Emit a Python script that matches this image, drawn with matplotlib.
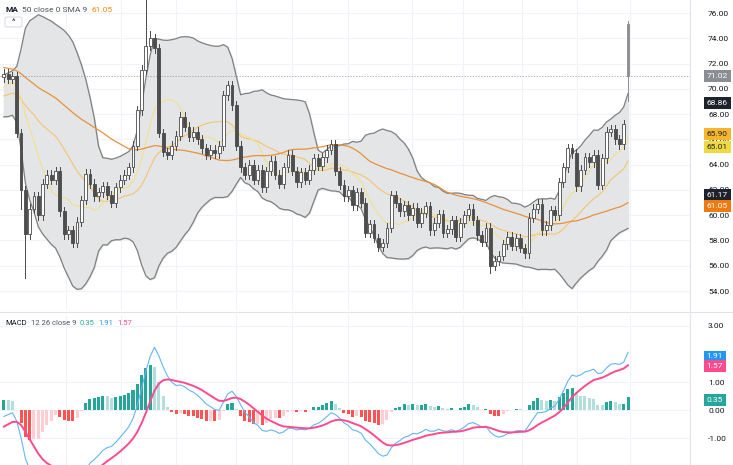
import numpy as np
import matplotlib
matplotlib.use("Agg")
import matplotlib.pyplot as plt
from matplotlib.patches import Rectangle, FancyBboxPatch

plt.rcParams['font.family'] = ['Roboto', 'DejaVu Sans']

# warm-up closes (before visible area)
warmup = [73.2, 73.8, 74.1, 73.5, 72.9, 73.4, 74.0, 74.4, 73.8, 73.1, 72.7, 73.3, 73.9, 74.2, 73.6,
          73.0, 72.6, 73.1, 73.7, 74.0, 73.4, 72.8, 72.5, 73.0, 73.5, 73.1, 72.6, 72.2, 72.7, 73.0,
          69.5, 68.8, 68.4, 68.9, 69.3, 68.7, 68.2, 68.6, 69.2, 69.6, 69.1, 68.7, 69.0, 69.5, 70.0,
          69.6, 70.2, 70.6, 70.3, 70.9]
closes = [71.2, 70.8, 71.0, 66.5, 62.0, 58.5, 60.5, 61.5, 60.0, 62.5, 63.2, 62.8, 63.5,
          60.3, 58.5, 58.8, 57.8, 59.5, 61.2, 63.3, 62.5, 61.5, 61.8, 62.3, 61.6, 61.0, 62.2, 62.8,
          63.2, 63.8, 65.5, 68.3, 71.5, 73.4, 74.0, 73.2, 66.5, 65.0, 64.8, 65.5, 66.3,
          67.8, 67.0, 66.2, 66.6, 66.0, 65.3, 64.8, 65.2, 64.9, 65.5, 69.5, 70.3, 68.7,
          65.5, 63.8, 63.2, 64.0, 62.8, 63.6, 62.2, 63.5, 64.3, 63.2, 62.5, 63.8, 64.8, 63.5, 62.6, 63.4,
          62.8, 63.6, 64.5, 63.9, 64.6, 65.2, 65.6, 63.5, 62.4, 61.5, 62.0, 60.8, 61.8, 61.0, 58.6, 59.3,
          58.2, 57.5, 57.8, 59.0, 61.6, 61.0, 60.3, 60.8, 60.0, 60.6, 59.4, 60.2, 60.7, 58.8, 59.4, 60.1,
          58.6, 58.9, 59.6, 58.3, 59.4, 60.0, 60.5, 59.6, 58.4, 57.9, 59.0, 56.0, 56.4, 56.8, 57.7, 58.3,
          57.6, 58.2, 57.4, 57.0, 59.8, 60.5, 60.9, 58.8, 59.2, 60.4, 60.0, 62.6, 63.8, 65.3, 64.9, 62.3,
          63.6, 64.6, 64.2, 64.8, 62.4, 64.5, 66.6, 66.8, 66.0, 65.6, 67.2, 71.02]
last_open = 75.1
special_high = {33: 77.2, 34: 74.6, 145: 75.4}
special_low = {5: 55.0, 4: 60.5, 145: 69.0, 113: 55.4}

# value, text, background, text colour, displayed position (labels are stacked apart)
right_labels = [(71.02, "71.02", "#8a8d94", "white", 71.02), (68.86, "68.86", "#1e222d", "white", 68.86),
                (65.90, "65.90", "#f7b52c", "#1e222d", 66.4), (65.01, "65.01", "#eed93f", "#1e222d", 65.4),
                (61.17, "61.17", "#1e222d", "white", 61.6), (61.05, "61.05", "#ef7a10", "white", 60.75)]
price_ticks = [54, 56, 58, 60, 62, 64, 66, 68, 70, 72, 74, 76]
macd_ticks = [-1.0, 0.0, 1.0, 3.0]
macd_labels = [(1.91, "1.91", "#2196f3"), (1.57, "1.57", "#ff4a8d"), (0.35, "0.35", "#26a69a")]

allc = np.array(warmup + closes)
W = len(warmup)
N = len(closes)

def sma(a, n):
    out = np.full(len(a), np.nan)
    c = np.cumsum(np.insert(a, 0, 0))
    out[n-1:] = (c[n:] - c[:-n]) / n
    return out

def ema(a, n):
    k = 2 / (n + 1); out = np.zeros(len(a)); out[0] = a[0]
    for i in range(1, len(a)):
        out[i] = a[i] * k + out[i-1] * (1 - k)
    return out

mid = sma(allc, 20)
std = np.array([np.nan if i < 19 else allc[i-19:i+1].std() for i in range(len(allc))])
up, lo = mid + 2 * std, mid - 2 * std
ma50 = sma(allc, 50)
sma9 = sma(allc, 9)
macd = ema(allc, 12) - ema(allc, 26)
sig = ema(macd, 9)
hist = macd - sig

idx = np.arange(N)
sl = slice(W, W + N)

fig = plt.figure(figsize=(7.33, 4.65), dpi=100)
ax = fig.add_axes([0, 1 - 310/465, 690/733, 310/465])
ax2 = fig.add_axes([0, 0, 690/733, 150/465])
xl = (-3/4.31 - 0.2, 687/4.31)
for a in (ax, ax2):
    a.set_xlim(*xl)
    for s in a.spines.values():
        s.set_visible(False)
    a.yaxis.tick_right()
    a.tick_params(axis="y", length=0, labelsize=6, colors="#131722", pad=13)
    a.set_xticks([(p - 3) / 4.31 for p in [65, 120, 175, 235, 292, 348, 412, 463, 522, 577, 630]])
    a.tick_params(axis="x", length=0, labelbottom=False)
    a.grid(True, color="#f0f3fa", lw=0.8)
    a.set_axisbelow(True)
ax.set_ylim(52.5, 77.03)
ax.set_yticks(price_ticks)
ax.set_yticklabels([f"{t:.2f}" for t in price_ticks])
ax2.set_ylim(-1.96, 3.39)
ax2.set_yticks(macd_ticks)
ax2.set_yticklabels([f"{t:.2f}" for t in macd_ticks])

fig.add_artist(plt.Line2D([0, 1], [1 - 312/465] * 2, color="#e0e3eb", lw=0.8))
fig.add_artist(plt.Line2D([690/733] * 2, [0, 1], color="#e0e3eb", lw=0.8))

ax.fill_between(idx, up[sl], lo[sl], color="#e3e5e6", zorder=1)
ax.plot(idx, up[sl], color="#808080", lw=0.9, zorder=2)
ax.plot(idx, lo[sl], color="#808080", lw=0.9, zorder=2)
ax.plot(idx, mid[sl], color="#f7c46c", lw=0.8, zorder=2)
ax.plot(idx, sma9[sl], color="#f3e08a", lw=0.8, zorder=2)
ax.plot(idx, ma50[sl], color="#e8923a", lw=0.9, zorder=2)
ax.axhline(71.02, color="#9598a1", lw=0.5, ls=(0, (2, 2)), zorder=2)

for i in range(N):
    o = allc[W + i - 1] if i < N - 1 else last_open
    c = closes[i]
    h = special_high.get(i, max(o, c) + 0.35)
    l = special_low.get(i, min(o, c) - 0.35)
    col = "#4a4a4a" if i < N - 1 else "#8c8c8c"
    ax.plot([i, i], [l, h], color=col, lw=0.7, zorder=3)
    fc = "white" if c >= o else ("#8c8c8c" if i == N - 1 else "#4d4d4d")
    ax.add_patch(Rectangle((i - 0.33, min(o, c)), 0.66, max(abs(c - o), 0.05),
                           facecolor=fc, edgecolor=col, lw=0.6, zorder=4))

hc = []
for i in range(N):
    hv, pv = hist[W + i], hist[W + i - 1]
    if hv >= 0:
        hc.append("#26a69a" if hv >= pv else "#b2dfdb")
    else:
        hc.append("#ff5252" if hv <= pv else "#ffcdd2")
ax2.bar(idx, hist[sl], width=0.7, color=hc, zorder=2)
ax2.plot(idx, macd[sl], color="#64b5f6", lw=0.8, zorder=3)
ax2.plot(idx, sig[sl], color="#ff4a8d", lw=1.4, zorder=3)

def box(axx, y, txt, bg, fg):
    axx.annotate(txt, xy=(1, y), xycoords=("axes fraction", "data"), xytext=(12, 0),
                 textcoords="offset points", fontsize=6, color=fg, va="center", ha="left", zorder=10,
                 bbox=dict(boxstyle="square,pad=0.35", fc=bg, ec="none"), annotation_clip=False)

for v, t, bg, fg, pos in right_labels:
    box(ax, pos, t, bg, fg)
for v, t, bg in macd_labels:
    box(ax2, v, t, bg, "white")

renderer = fig.canvas.get_renderer()
def seq(x0, y, parts, fs):
    x = x0
    for txt, col, wt in parts:
        t = fig.text(x / 733, 1 - y / 465, txt, fontsize=fs, color=col, weight=wt, va="center")
        bb = t.get_window_extent(renderer)
        x += bb.width + 4

seq(5, 10, [("MA", "#131722", "bold"), ("50 close 0 SMA 9", "#50535e", "normal"),
            ("61.05", "#ef8a10", "normal")], 6)
fig.add_artist(FancyBboxPatch((5/733, 1 - 27/465), 17/733, 10/465, boxstyle="round,pad=0,rounding_size=0.003",
                              fc="white", ec="#d1d4dc", lw=0.6))
fig.text(13.5/733, 1 - 22/465, "^", fontsize=6, color="#131722", va="center", ha="center")
seq(5, 323, [("MACD", "#131722", "normal"), ("12 26 close 9", "#50535e", "normal"),
             ("0.35", "#26a69a", "normal"), ("1.91", "#2196f3", "normal"), ("1.57", "#ff4a8d", "normal")], 5.5)

fig.savefig("out.png", dpi=100, facecolor="white")
